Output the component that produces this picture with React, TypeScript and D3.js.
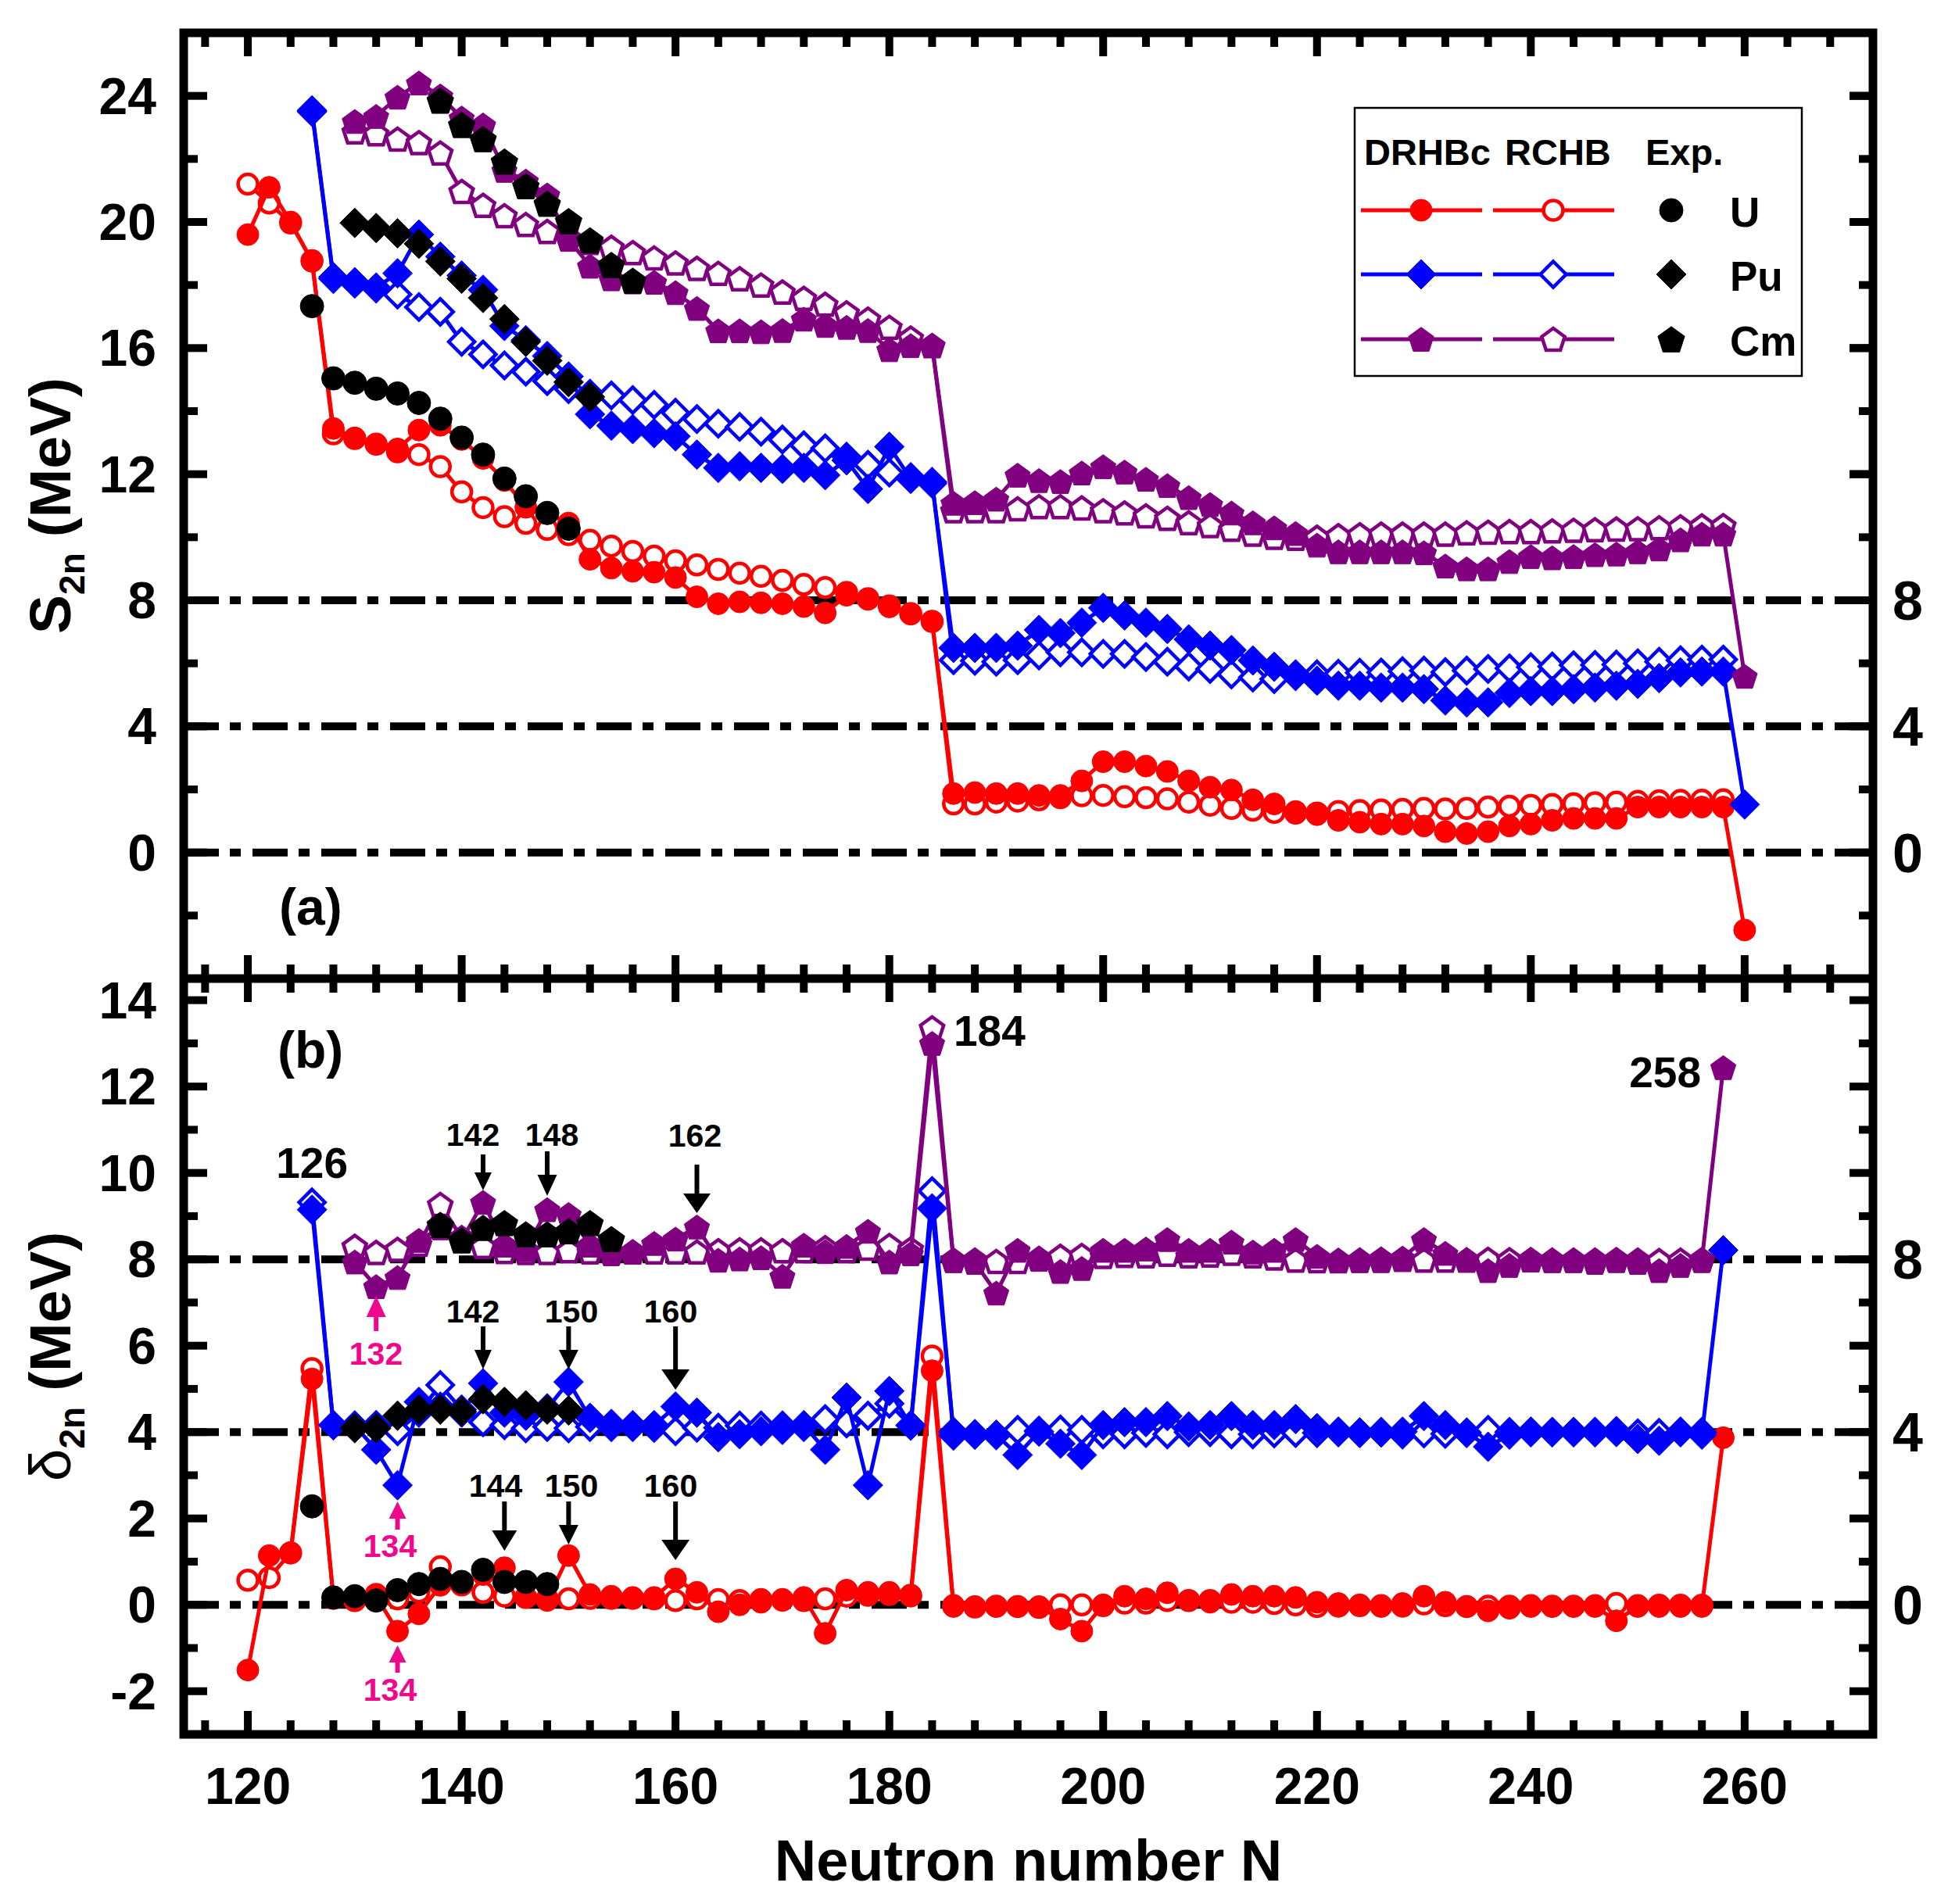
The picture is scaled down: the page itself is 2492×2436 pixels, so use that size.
import React from 'react';
import * as d3 from 'd3';

// ---------- categories (neutron numbers) ----------
const N_U_DRHBC = d3.range(120, 261, 2);
const N_U_RCHB = d3.range(120, 259, 2);
const N_PU_DRHBC = d3.range(126, 261, 2);
const N_PU_RCHB = d3.range(126, 259, 2);
const N_CM_DRHBC = d3.range(130, 261, 2);
const N_CM_RCHB = d3.range(130, 259, 2);
const N_U_EXP = d3.range(126, 151, 2);
const N_PU_EXP = d3.range(130, 153, 2);
const N_CM_EXP = d3.range(138, 157, 2);

// ---------- panel (a): S2n (MeV) ----------
const uDrhbcS2n = [19.6, 21.1, 20.0, 18.75, 13.45, 13.15, 12.95, 12.8, 13.4, 13.55, 13.1, 12.5, 11.8, 10.95, 10.75, 10.45, 9.3, 9.02, 8.92, 8.89, 8.72, 8.11, 7.89, 7.95, 7.92, 7.89, 7.8, 7.6, 8.16, 8.03, 7.79, 7.56, 7.33,
  1.87, 1.9, 1.87, 1.87, 1.81, 1.81, 2.27, 2.88, 2.88, 2.74, 2.57, 2.27, 2.07, 1.98, 1.67, 1.54, 1.3, 1.2,
  1.02, 0.96, 0.9, 0.9, 0.84, 0.66, 0.6, 0.66, 0.84, 0.9, 1.02, 1.08, 1.08, 1.08, 1.44, 1.44, 1.44, 1.44, 1.44, -2.46];
const uRchbS2n = [21.2, 20.6, 19.97, 18.77, 13.28, 13.13, 12.95, 12.71, 12.62, 12.24, 11.44, 10.94, 10.65, 10.44, 10.25, 10.08, 9.9, 9.72, 9.55, 9.4, 9.25, 9.12, 8.98, 8.86, 8.76, 8.63, 8.5, 8.4, 8.25, 8.05, 7.82, 7.58, 7.33,
  1.54, 1.54, 1.6, 1.63, 1.67, 1.74, 1.8, 1.81, 1.77, 1.74, 1.7, 1.6, 1.5, 1.4, 1.34, 1.27, 1.25, 1.25,
  1.3, 1.33, 1.35, 1.37, 1.4, 1.38, 1.4, 1.44, 1.47, 1.5, 1.52, 1.55, 1.58, 1.6, 1.62, 1.64, 1.65, 1.66, 1.67];
const puDrhbcS2n = [23.54, 18.25, 18.09, 17.92, 18.37, 19.6, 18.9, 18.3, 17.85, 16.7, 16.25, 15.75, 15.1, 13.9, 13.54, 13.43, 13.3, 13.2, 12.62, 12.2, 12.25, 12.2, 12.17, 12.2, 11.97, 12.44, 11.53, 12.87, 11.85, 11.7,
  6.49, 6.49, 6.49, 6.56, 7.06, 6.96, 7.29, 7.76, 7.52, 7.29, 7.09, 6.76, 6.56, 6.42, 6.09, 5.89, 5.65, 5.45,
  5.29, 5.29, 5.23, 5.23, 5.18, 4.82, 4.76, 4.76, 5.06, 5.12, 5.12, 5.18, 5.23, 5.29, 5.35, 5.53, 5.71, 5.74, 5.74, 1.52];
const puRchbS2n = [23.5, 18.2, 18.05, 17.9, 17.7, 17.3, 17.15, 16.2, 15.8, 15.45, 15.25, 14.95, 14.7, 14.55, 14.5, 14.35, 14.2, 13.95, 13.75, 13.6, 13.5, 13.35, 13.1, 12.92, 12.82, 12.55, 12.3, 12.05, 11.9, 11.75,
  6.1, 6.08, 6.05, 6.1, 6.25, 6.35, 6.35, 6.3, 6.3, 6.2, 6.05, 5.9, 5.82, 5.65, 5.55, 5.5, 5.6, 5.65,
  5.67, 5.7, 5.71, 5.75, 5.77, 5.72, 5.77, 5.82, 5.84, 5.88, 5.9, 5.94, 5.95, 5.96, 6.0, 6.05, 6.1, 6.12, 6.12];
const cmDrhbcS2n = [23.19, 23.35, 23.96, 24.41, 24.0, 23.3, 23.08, 21.64, 21.3, 20.86, 19.45, 18.6, 18.2, 18.1, 18.09, 17.76, 17.26, 16.55, 16.55, 16.52, 16.56, 16.92, 16.72, 16.66, 16.56, 15.95, 16.08, 16.08,
  11.08, 11.1, 11.21, 11.97, 11.8, 11.77, 12.04, 12.24, 12.07, 11.84, 11.64, 11.26, 11.04, 10.77, 10.46, 10.3, 10.12, 9.75,
  9.54, 9.54, 9.54, 9.54, 9.51, 9.09, 9.0, 9.0, 9.23, 9.39, 9.35, 9.39, 9.45, 9.47, 9.54, 9.63, 9.92, 10.1, 10.1, 5.59];
const cmRchbS2n = [22.86, 22.8, 22.63, 22.52, 22.19, 20.97, 20.53, 20.2, 19.92, 19.7, 19.5, 19.35, 19.2, 19.03, 18.86, 18.7, 18.53, 18.37, 18.2, 18.0, 17.78, 17.58, 17.39, 17.12, 16.92, 16.66, 16.32, 16.08,
  10.84, 10.84, 10.84, 10.9, 10.97, 10.97, 10.93, 10.84, 10.77, 10.68, 10.6, 10.46, 10.37, 10.25, 10.1, 10.0, 9.97, 10.0,
  10.05, 10.08, 10.1, 10.1, 10.1, 10.1, 10.14, 10.16, 10.18, 10.18, 10.2, 10.22, 10.24, 10.26, 10.27, 10.3, 10.33, 10.36, 10.37];
const uExpS2n = [17.33, 15.04, 14.9, 14.71, 14.56, 14.26, 13.76, 13.16, 12.62, 11.86, 11.3, 10.77, 10.27];
const puExpS2n = [19.97, 19.81, 19.64, 19.31, 18.75, 18.2, 17.59, 16.92, 16.2, 15.6, 14.92, 14.45];
const cmExpS2n = [23.85, 23.08, 22.63, 21.92, 21.14, 20.58, 20.03, 19.42, 18.64, 18.14];

// ---------- panel (b): delta_2n (MeV), Pu shifted by +4, Cm by +8 ----------
const N_U_DRHBC_D = d3.range(120, 259, 2);
const N_U_RCHB_D = d3.range(120, 257, 2);
const N_PU_DRHBC_D = d3.range(126, 259, 2);
const N_PU_RCHB_D = d3.range(126, 257, 2);
const N_CM_DRHBC_D = d3.range(130, 259, 2);
const N_CM_RCHB_D = d3.range(130, 257, 2);
const N_U_EXP_D = d3.range(126, 149, 2);
const N_PU_EXP_D = d3.range(130, 151, 2);
const N_CM_EXP_D = d3.range(138, 155, 2);
const OFFSET_U = 0;
const OFFSET_PU = 4;
const OFFSET_CM = 8;

const uDrhbcD = [-1.51, 1.14, 1.21, 5.23, 0.17, 0.1, 0.2, -0.61, -0.21, 0.45, 0.5, 0.7, 0.86, 0.17, 0.1, 1.14, 0.24, 0.2, 0.17, 0.17, 0.6, 0.29, -0.16, 0.0, 0.06, 0.1, 0.17, -0.66, 0.34, 0.29, 0.29, 0.2, 5.42,
  -0.04, -0.04, -0.04, -0.04, -0.04, -0.33, -0.61, 0.0, 0.2, 0.14, 0.28, 0.1, 0.06, 0.24, 0.2, 0.2, 0.17, 0.06,
  0.03, 0.0, -0.04, 0.03, 0.2, 0.06, -0.04, -0.14, -0.08, -0.04, -0.04, -0.04, -0.04, -0.37, -0.04, -0.04, -0.04, -0.04, 3.87];
const uRchbD = [0.57, 0.63, 1.2, 5.47, 0.15, 0.1, 0.24, 0.14, 0.3, 0.88, 0.46, 0.29, 0.2, 0.17, 0.14, 0.14, 0.15, 0.15, 0.15, 0.14, 0.1, 0.14, 0.12, 0.1, 0.12, 0.12, 0.1, 0.14, 0.2, 0.22, 0.24, 0.22, 5.76,
  -0.02, -0.05, -0.03, -0.04, -0.06, 0.0, 0.0, -0.02, 0.04, 0.04, 0.1, 0.1, 0.1, 0.06, 0.06, 0.03, 0.0, -0.04,
  -0.03, -0.02, -0.02, -0.03, 0.02, -0.02, -0.04, -0.03, -0.03, -0.02, -0.03, -0.03, -0.02, 0.03, -0.02, -0.01, -0.01, -0.01];
const puDrhbcD = [5.15, 0.16, 0.15, -0.41, -1.23, 0.7, 0.59, 0.45, 1.13, 0.45, 0.38, 0.55, 1.16, 0.33, 0.19, 0.16, 0.16, 0.59, 0.45, -0.12, -0.05, 0.02, 0.05, 0.16, -0.41, 0.8, -1.23, 0.95, 0.16, 5.18,
  0.01, -0.06, -0.06, -0.53, 0.01, -0.27, -0.53, 0.16, 0.23, 0.23, 0.37, 0.13, 0.16, 0.37, 0.16, 0.16, 0.3, 0.09,
  0.01, -0.01, -0.01, 0.01, 0.37, 0.16, -0.01, -0.34, -0.06, 0.01, 0.0, 0.0, 0.0, 0.0, -0.16, -0.2, 0.01, -0.06, 4.21];
const puRchbD = [5.32, 0.16, 0.15, 0.16, 0.02, 0.45, 1.09, 0.52, 0.23, 0.16, 0.09, 0.12, 0.09, 0.12, 0.12, 0.12, 0.1, 0.02, 0.1, 0.1, 0.15, 0.15, 0.15, 0.12, 0.3, 0.2, 0.38, 0.66, 0.15, 5.58,
  -0.08, -0.05, -0.07, 0.05, 0.03, 0.06, 0.05, -0.05, -0.05, -0.02, -0.05, 0.0, 0.0, -0.05, -0.05, -0.03, -0.02, -0.02,
  0.0, -0.02, 0.0, -0.05, -0.03, -0.04, -0.02, 0.05, 0.0, 0.0, 0.0, 0.0, 0.0, 0.02, -0.03, -0.02, 0.0, 0.0];
const cmDrhbcD = [-0.06, -0.63, -0.42, 0.44, 0.73, 0.44, 1.32, 0.33, 0.23, 1.15, 1.04, 0.33, 0.13, 0.18, 0.37, 0.47, 0.75, -0.02, 0.01, 0.04, -0.39, 0.33, 0.18, 0.3, 0.65, -0.06, 0.13, 5.0,
  -0.03, -0.07, -0.78, 0.21, 0.0, -0.28, -0.21, 0.21, 0.21, 0.24, 0.46, 0.21, 0.21, 0.4, 0.17, 0.21, 0.46, 0.07,
  -0.03, -0.03, -0.03, 0.03, 0.46, 0.14, 0.0, -0.26, -0.14, 0.0, -0.03, -0.03, -0.07, -0.03, -0.07, -0.26, -0.14, -0.03, 4.44];
const cmRchbD = [0.3, 0.16, 0.23, 0.35, 1.27, 0.5, 0.3, 0.18, 0.16, 0.16, 0.2, 0.17, 0.17, 0.17, 0.17, 0.17, 0.17, 0.2, 0.22, 0.22, 0.2, 0.2, 0.27, 0.2, 0.26, 0.32, 0.24, 5.36,
  -0.02, -0.02, -0.05, -0.05, 0.02, 0.07, 0.09, 0.07, 0.09, 0.08, 0.12, 0.08, 0.1, 0.14, 0.08, 0.03, -0.02, -0.03,
  -0.03, -0.02, 0.0, 0.0, -0.02, -0.02, -0.02, 0.0, -0.01, -0.01, -0.02, -0.02, -0.02, -0.01, -0.02, -0.03, -0.02, -0.01];
const uExpD = [2.28, 0.17, 0.2, 0.1, 0.34, 0.48, 0.6, 0.53, 0.81, 0.53, 0.53, 0.48];
const puExpD = [0.09, 0.09, 0.38, 0.52, 0.52, 0.48, 0.76, 0.7, 0.62, 0.52, 0.5];
const cmExpD = [0.8, 0.44, 0.73, 0.84, 0.58, 0.58, 0.65, 0.84, 0.47];

// ---------- axes ----------
const X_MAJOR = d3.range(120, 261, 20);
const X_MINOR = d3.range(116, 271, 4);
const YA_LABELS = [0, 4, 8, 12, 16, 20, 24];
const YA_MINOR = [-2, 2, 6, 10, 14, 18, 22];
const YB_LABELS = [-2, 0, 2, 4, 6, 8, 10, 12, 14];
const YB_MINOR = [-1, 1, 3, 5, 7, 9, 11, 13];
const RIGHT_LABELS = [0, 4, 8];
const REF_LINES = [0, 4, 8];

// annotations in panel (b): [label, N, textBaselineY-value anchor handled in layout]
const ANNOT_TOP = ['142', '148', '162'];
const ANNOT_MID = ['142', '150', '160'];
const ANNOT_LOW = ['144', '150', '160'];

const RED = '#FF0000';
const BLUE = '#0000FF';
const PURPLE = '#800080';
const PINK = '#F0088C';
const FONT = '"Liberation Sans", Arial, Helvetica, sans-serif';

const W = 2492, H = 2436;
const L = 235, R = 2396, TOP = 42, MID = 1252, BOT = 2219;

const x = d3.scaleLinear().domain([114, 272]).range([L, R]);
const yA = d3.scaleLinear().domain([-4, 26]).range([MID, TOP]);
const yB = d3.scaleLinear().domain([-3, 14.5]).range([BOT, MID]);

type Shape = 'circle' | 'diamond' | 'pentagon';

function shapePath(shape: Shape, s: number): string {
  if (shape === 'diamond') return `M0,${-s}L${s},0L0,${s}L${-s},0Z`;
  if (shape === 'pentagon') {
    const pts = d3.range(5).map((k) => {
      const a = (-90 + k * 72) * Math.PI / 180;
      return [s * Math.cos(a), s * Math.sin(a) + s * 0.1];
    });
    return 'M' + pts.map((p) => p[0].toFixed(2) + ',' + p[1].toFixed(2)).join('L') + 'Z';
  }
  return d3.arc()({ innerRadius: 0, outerRadius: s, startAngle: 0, endAngle: 2 * Math.PI }) as string;
}

function Marker({ cx, cy, shape, color, filled, exp }: { cx: number; cy: number; shape: Shape; color: string; filled: boolean; exp?: boolean }) {
  let s: number;
  if (shape === 'circle') s = exp ? 15 : (filled ? 14 : 12.5);
  else if (shape === 'diamond') s = exp ? 19 : (filled ? 19 : 16.5);
  else s = exp ? 18 : (filled ? 17 : 15.5);
  return (
    <path
      d={shapePath(shape, s)}
      transform={`translate(${cx},${cy})`}
      fill={filled ? color : '#fff'}
      stroke={color}
      strokeWidth={filled ? 1 : 4.5}
      strokeLinejoin="miter"
    />
  );
}

function Series({ ns, vals, offset, y, color, shape, filled, line }: { ns: number[]; vals: number[]; offset: number; y: d3.ScaleLinear<number, number>; color: string; shape: Shape; filled: boolean; line: boolean }) {
  const pts = vals.map((v, i) => [x(ns[i]), y(v + offset)] as [number, number]).filter((p) => !isNaN(p[0]));
  const path = d3.line()(pts) || '';
  return (
    <g>
      {line && <path d={path} fill="none" stroke={color} strokeWidth={5} strokeLinejoin="round" />}
      {pts.map((p, i) => (
        <Marker key={i} cx={p[0]} cy={p[1]} shape={shape} color={color} filled={filled} exp={!line} />
      ))}
    </g>
  );
}

function Arrow({ ax, y1, y2, head, hw, color }: { ax: number; y1: number; y2: number; head: number; hw: number; color: string }) {
  // y1 tail, y2 tip
  const dir = y2 > y1 ? 1 : -1;
  const base = y2 - dir * head;
  return (
    <g>
      <line x1={ax} x2={ax} y1={y1} y2={base} stroke={color} strokeWidth={6} />
      <path d={`M${ax - hw / 2},${base}L${ax + hw / 2},${base}L${ax},${y2}Z`} fill={color} />
    </g>
  );
}

function Panel({ which }: { which: 'a' | 'b' }) {
  const y = which === 'a' ? yA : yB;
  const top = which === 'a' ? TOP : MID;
  const bot = which === 'a' ? MID : BOT;
  const labels = which === 'a' ? YA_LABELS : YB_LABELS;
  const minor = which === 'a' ? YA_MINOR : YB_MINOR;
  return (
    <g>
      {REF_LINES.map((v) => (
        <line key={'ref' + v} x1={L} x2={R} y1={y(v)} y2={y(v)} stroke="#000" strokeWidth={10} strokeDasharray="45 14 14 15" />
      ))}
      {/* y ticks left and right */}
      {labels.map((v) => (
        <g key={'yt' + v}>
          <line x1={L} x2={L + 30} y1={y(v)} y2={y(v)} stroke="#000" strokeWidth={10} />
          <line x1={R} x2={R - 30} y1={y(v)} y2={y(v)} stroke="#000" strokeWidth={10} />
          <text x={200} y={y(v) + 23} textAnchor="end" fontSize={66} fontWeight="bold" fontFamily={FONT}>{v}</text>
        </g>
      ))}
      {minor.map((v) => (
        <g key={'ym' + v}>
          <line x1={L} x2={L + 18} y1={y(v)} y2={y(v)} stroke="#000" strokeWidth={10} />
          <line x1={R} x2={R - 18} y1={y(v)} y2={y(v)} stroke="#000" strokeWidth={10} />
        </g>
      ))}
      {which === 'a' && YA_LABELS.filter((v) => v > 0 && v !== 4 && v !== 8).map((v) => (
        <line key={'yr' + v} x1={R} x2={R - 30} y1={y(v)} y2={y(v)} stroke="#000" strokeWidth={10} />
      ))}
      {RIGHT_LABELS.map((v) => (
        <text key={'rl' + v} x={2421} y={y(v) + 25} fontSize={70} fontWeight="bold" fontFamily={FONT}>{v}</text>
      ))}
      {/* x ticks top and bottom of panel */}
      {X_MAJOR.map((n) => (
        <g key={'xt' + n}>
          <line x1={x(n)} x2={x(n)} y1={top} y2={top + 30} stroke="#000" strokeWidth={10} />
          <line x1={x(n)} x2={x(n)} y1={bot} y2={bot - 30} stroke="#000" strokeWidth={10} />
        </g>
      ))}
      {X_MINOR.filter((n) => !X_MAJOR.includes(n)).map((n) => (
        <g key={'xm' + n}>
          <line x1={x(n)} x2={x(n)} y1={top} y2={top + 18} stroke="#000" strokeWidth={10} />
          <line x1={x(n)} x2={x(n)} y1={bot} y2={bot - 18} stroke="#000" strokeWidth={10} />
        </g>
      ))}
    </g>
  );
}

function App() {
  return (
    <svg width={W} height={H} viewBox={`0 0 ${W} ${H}`} style={{ position: 'absolute', left: 0, top: 0, background: '#fff' }} xmlns="http://www.w3.org/2000/svg">
      <rect x={0} y={0} width={W} height={H} fill="#fff" />
      <Panel which="a" />
      <Panel which="b" />

      {/* panel (a) data */}
      <Series ns={N_U_RCHB} vals={uRchbS2n} offset={0} y={yA} color={RED} shape="circle" filled={false} line />
      <Series ns={N_U_DRHBC} vals={uDrhbcS2n} offset={0} y={yA} color={RED} shape="circle" filled line />
      <Series ns={N_PU_RCHB} vals={puRchbS2n} offset={0} y={yA} color={BLUE} shape="diamond" filled={false} line />
      <Series ns={N_PU_DRHBC} vals={puDrhbcS2n} offset={0} y={yA} color={BLUE} shape="diamond" filled line />
      <Series ns={N_CM_RCHB} vals={cmRchbS2n} offset={0} y={yA} color={PURPLE} shape="pentagon" filled={false} line />
      <Series ns={N_CM_DRHBC} vals={cmDrhbcS2n} offset={0} y={yA} color={PURPLE} shape="pentagon" filled line />
      <Series ns={N_U_EXP} vals={uExpS2n} offset={0} y={yA} color="#000" shape="circle" filled line={false} />
      <Series ns={N_PU_EXP} vals={puExpS2n} offset={0} y={yA} color="#000" shape="diamond" filled line={false} />
      <Series ns={N_CM_EXP} vals={cmExpS2n} offset={0} y={yA} color="#000" shape="pentagon" filled line={false} />

      {/* panel (b) data */}
      <Series ns={N_U_RCHB_D} vals={uRchbD} offset={OFFSET_U} y={yB} color={RED} shape="circle" filled={false} line />
      <Series ns={N_U_DRHBC_D} vals={uDrhbcD} offset={OFFSET_U} y={yB} color={RED} shape="circle" filled line />
      <Series ns={N_PU_RCHB_D} vals={puRchbD} offset={OFFSET_PU} y={yB} color={BLUE} shape="diamond" filled={false} line />
      <Series ns={N_PU_DRHBC_D} vals={puDrhbcD} offset={OFFSET_PU} y={yB} color={BLUE} shape="diamond" filled line />
      <Series ns={N_CM_RCHB_D} vals={cmRchbD} offset={OFFSET_CM} y={yB} color={PURPLE} shape="pentagon" filled={false} line />
      <Series ns={N_CM_DRHBC_D} vals={cmDrhbcD} offset={OFFSET_CM} y={yB} color={PURPLE} shape="pentagon" filled line />
      <Series ns={N_U_EXP_D} vals={uExpD} offset={OFFSET_U} y={yB} color="#000" shape="circle" filled line={false} />
      <Series ns={N_PU_EXP_D} vals={puExpD} offset={OFFSET_PU} y={yB} color="#000" shape="diamond" filled line={false} />
      <Series ns={N_CM_EXP_D} vals={cmExpD} offset={OFFSET_CM} y={yB} color="#000" shape="pentagon" filled line={false} />

      {/* frame */}
      <rect x={L} y={TOP} width={R - L} height={BOT - TOP} fill="none" stroke="#000" strokeWidth={11} />
      <line x1={L} x2={R} y1={MID} y2={MID} stroke="#000" strokeWidth={11} />

      {/* x tick labels */}
      {X_MAJOR.map((n) => (
        <text key={'xl' + n} x={x(n)} y={2308} textAnchor="middle" fontSize={66} fontWeight="bold" fontFamily={FONT}>{n}</text>
      ))}
      <text x={(L + R) / 2} y={2406} textAnchor="middle" fontSize={74} fontWeight="bold" fontFamily={FONT}>Neutron number N</text>

      {/* y titles */}
      <text transform={`translate(90,${(TOP + MID) / 2}) rotate(-90)`} textAnchor="middle" fontSize={75} fontWeight="bold" fontFamily={FONT}>
        S<tspan fontSize={46} dy={18}>2n</tspan><tspan dy={-18} dx={20}>(MeV)</tspan>
      </text>
      <text transform={`translate(90,${(MID + BOT) / 2}) rotate(-90)`} textAnchor="middle" fontSize={75} fontWeight="bold" fontFamily={FONT}>
        <tspan fontWeight="normal">δ</tspan><tspan fontSize={46} dy={18}>2n</tspan><tspan dy={-18} dx={20}>(MeV)</tspan>
      </text>

      {/* panel labels */}
      <text x={357} y={1183} fontSize={66} fontWeight="bold" fontFamily={FONT}>(a)</text>
      <text x={355} y={1366} fontSize={66} fontWeight="bold" fontFamily={FONT}>(b)</text>

      {/* legend */}
      <g fontFamily={FONT} fontWeight="bold">
        <rect x={1733} y={138} width={572} height={343} fill="#fff" stroke="#000" strokeWidth={2.5} />
        <text x={1745} y={211} fontSize={47}>DRHBc</text>
        <text x={1925} y={211} fontSize={47}>RCHB</text>
        <text x={2105} y={211} fontSize={47}>Exp.</text>
        {([['U', RED, 'circle', 269], ['Pu', BLUE, 'diamond', 351], ['Cm', PURPLE, 'pentagon', 434]] as [string, string, Shape, number][]).map(([lab, col, sh, ly]) => (
          <g key={lab}>
            <line x1={1741} x2={1896} y1={ly} y2={ly} stroke={col} strokeWidth={5} />
            <Marker cx={1818} cy={ly} shape={sh} color={col} filled />
            <line x1={1910} x2={2065} y1={ly} y2={ly} stroke={col} strokeWidth={5} />
            <Marker cx={1987} cy={ly} shape={sh} color={col} filled={false} />
            <Marker cx={2138} cy={ly} shape={sh} color="#000" filled exp />
            <text x={2213} y={ly + 21} fontSize={53}>{lab}</text>
          </g>
        ))}
      </g>

      {/* annotations panel (b) */}
      <g fontFamily={FONT} fontWeight="bold">
        <text x={x(126)} y={1507} textAnchor="middle" fontSize={55}>126</text>
        <text x={1220} y={1338} fontSize={55}>184</text>
        <text x={2176} y={1391} textAnchor="end" fontSize={55}>258</text>

        <text x={605} y={1466} textAnchor="middle" fontSize={41}>{ANNOT_TOP[0]}</text>
        <text x={706} y={1466} textAnchor="middle" fontSize={41}>{ANNOT_TOP[1]}</text>
        <text x={889} y={1467} textAnchor="middle" fontSize={41}>{ANNOT_TOP[2]}</text>
        <Arrow ax={x(142)} y1={1477} y2={1523} head={23} hw={22} color="#000" />
        <Arrow ax={x(148)} y1={1473} y2={1530} head={27} hw={25} color="#000" />
        <Arrow ax={x(162)} y1={1490} y2={1552} head={25} hw={35} color="#000" />

        <text x={605} y={1692} textAnchor="middle" fontSize={41}>{ANNOT_MID[0]}</text>
        <text x={731} y={1692} textAnchor="middle" fontSize={41}>{ANNOT_MID[1]}</text>
        <text x={858} y={1692} textAnchor="middle" fontSize={41}>{ANNOT_MID[2]}</text>
        <Arrow ax={x(142)} y1={1697} y2={1752} head={25} hw={22} color="#000" />
        <Arrow ax={x(150)} y1={1697} y2={1752} head={25} hw={25} color="#000" />
        <Arrow ax={x(160)} y1={1697} y2={1778} head={26} hw={36} color="#000" />

        <text x={634} y={1915} textAnchor="middle" fontSize={41}>{ANNOT_LOW[0]}</text>
        <text x={731} y={1915} textAnchor="middle" fontSize={41}>{ANNOT_LOW[1]}</text>
        <text x={858} y={1915} textAnchor="middle" fontSize={41}>{ANNOT_LOW[2]}</text>
        <Arrow ax={x(144)} y1={1921} y2={1984} head={26} hw={32} color="#000" />
        <Arrow ax={x(150)} y1={1921} y2={1976} head={25} hw={25} color="#000" />
        <Arrow ax={x(160)} y1={1921} y2={1996} head={26} hw={36} color="#000" />

        <text x={481} y={1746} textAnchor="middle" fontSize={41} fill={PINK}>132</text>
        <Arrow ax={x(132)} y1={1703} y2={1658} head={27} hw={25} color={PINK} />
        <text x={499} y={1992} textAnchor="middle" fontSize={41} fill={PINK}>134</text>
        <Arrow ax={x(134)} y1={1957} y2={1921} head={22} hw={22} color={PINK} />
        <text x={499} y={2176} textAnchor="middle" fontSize={41} fill={PINK}>134</text>
        <Arrow ax={x(134)} y1={2140} y2={2105} head={22} hw={22} color={PINK} />
      </g>
    </svg>
  );
}

export default App;
